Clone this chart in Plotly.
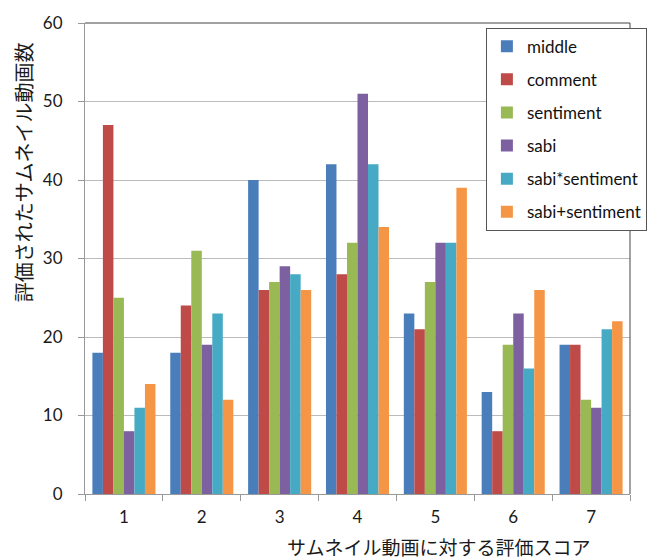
import plotly.graph_objects as go

categories = ["1", "2", "3", "4", "5", "6", "7"]
series_names = ["middle", "comment", "sentiment", "sabi", "sabi*sentiment", "sabi+sentiment"]
middle = [18, 18, 40, 42, 23, 13, 19]
comment = [47, 24, 26, 28, 21, 8, 19]
sentiment = [25, 31, 27, 32, 27, 19, 12]
sabi = [8, 19, 29, 51, 32, 23, 11]
sabi_x_sentiment = [11, 23, 28, 42, 32, 16, 21]
sabi_plus_sentiment = [14, 12, 26, 34, 39, 26, 22]
y_ticks = [0, 10, 20, 30, 40, 50, 60]

values = [middle, comment, sentiment, sabi, sabi_x_sentiment, sabi_plus_sentiment]
colors = ["#4A7EBB", "#BE4B48", "#98B954", "#7D60A0", "#46AAC5", "#F59646"]

fig = go.Figure()
for name, vals, col in zip(series_names, values, colors):
    fig.add_trace(go.Bar(x=categories, y=vals, name=name, legendgroup=name,
                         marker=dict(color=col, line=dict(width=0))))

font_family = "Lato, 'Open Sans', sans-serif"
jp_font = "'Noto Sans CJK JP', sans-serif"
text_col = "#1a1a1a"
fig.update_layout(
    width=659, height=560,
    margin=dict(l=85, r=23, t=17, b=66),
    paper_bgcolor="white", plot_bgcolor="white",
    barmode="group", bargap=0.19, bargroupgap=0,
    font=dict(family=font_family, size=17, color=text_col),
    legend=dict(x=1.031, y=0.99, xanchor="right", yanchor="top",
                bordercolor="#555", borderwidth=1, bgcolor="white",
                font=dict(size=17, color="#111"), tracegroupgap=8,
                itemwidth=30),
    showlegend=True,
)
fig.update_xaxes(type="category", tickson="boundaries", ticks="outside", ticklen=6,
                 tickcolor="#999", showline=True, linecolor="#999", linewidth=1,
                 showgrid=False, ticklabelstandoff=8,
                 tickfont=dict(size=17, color=text_col))
fig.update_yaxes(range=[0, 60], tickvals=y_ticks, ticks="outside", ticklen=6,
                 tickcolor="#999", showline=True, linecolor="#999", linewidth=1,
                 showgrid=True, gridcolor="#BBBBBB", gridwidth=1,
                 ticklabelstandoff=12, zeroline=False,
                 tickfont=dict(size=17, color=text_col))
# plot area border (top & right)
fig.add_shape(type="line", xref="paper", yref="paper", x0=0, x1=1, y0=1, y1=1,
              line=dict(color="#444", width=1))
fig.add_shape(type="line", xref="paper", yref="paper", x0=1, x1=1, y0=0, y1=1,
              line=dict(color="#444", width=1))
fig.add_annotation(text="サムネイル動画に対する評価スコア", xref="paper", yref="paper",
                   x=0.65, y=-0.112, xanchor="center", yanchor="middle", showarrow=False,
                   font=dict(size=19, family=jp_font, color=text_col))
fig.add_annotation(text="評価されたサムネイル動画数", xref="paper", yref="paper",
                   x=-0.114, y=0.683, xanchor="center", yanchor="middle", showarrow=False,
                   textangle=-90,
                   font=dict(size=20, family=jp_font, color=text_col))
fig.write_html("out.html")
